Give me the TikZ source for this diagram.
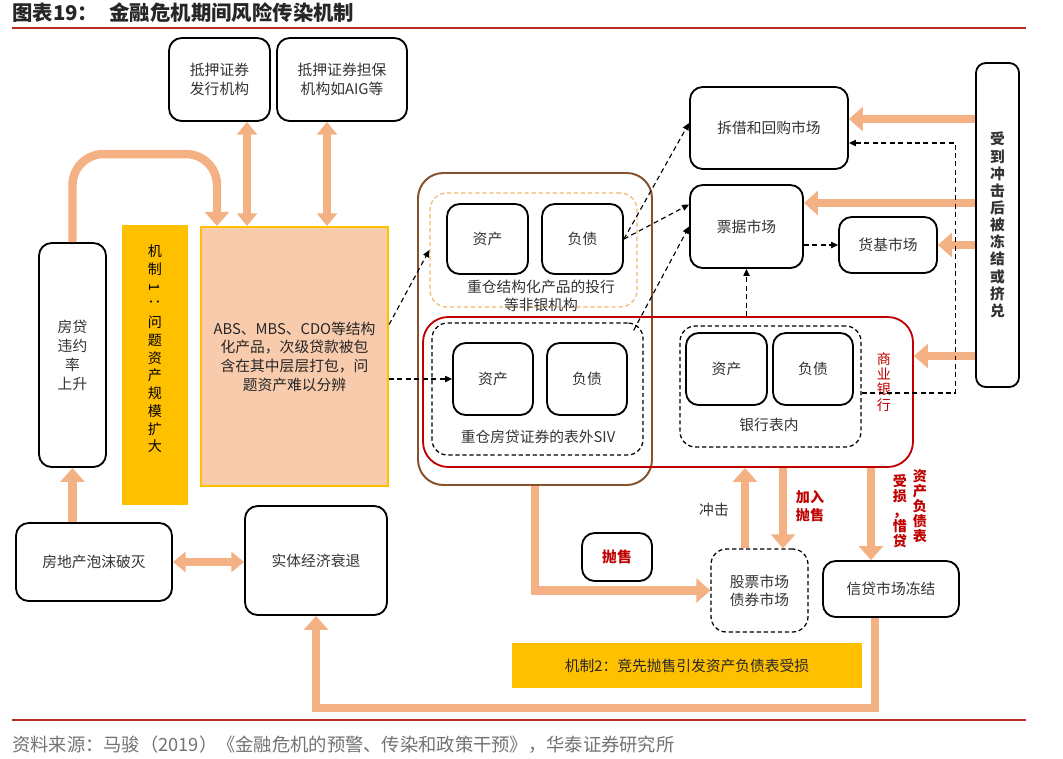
\documentclass[tikz,border=0pt]{standalone}
\usepackage{fontspec}
\setmainfont{Noto Sans CJK SC}
\usetikzlibrary{arrows.meta}

\begin{document}
\begin{tikzpicture}[x=0.025cm, y=-0.025cm, >={Triangle[length=5pt,width=4.5pt]}]

\definecolor{arrowc}{RGB}{244,177,131}
\definecolor{gold}{RGB}{255,192,0}
\definecolor{peach}{RGB}{248,203,173}
\definecolor{brownc}{RGB}{132,82,44}
\definecolor{bankred}{RGB}{192,0,0}
\definecolor{rulered}{RGB}{185,45,35}
\definecolor{dashyel}{RGB}{240,185,110}

% Fill background
\fill[white] (0,0) rectangle (1063,758);
\useasboundingbox (0,0) rectangle (1063,758);

\tikzset{
    sz/.style 2 args={minimum width=#1*0.025cm, minimum height=#2*0.025cm},
    box/.style={
        draw, line width=1.3pt, rounded corners=9pt, inner sep=1pt,
        align=center, text=black!80, font=\fontsize{10.5pt}{13pt}\selectfont
    },
    dbox/.style={
        draw, dash pattern=on 3pt off 2pt, line width=0.9pt, rounded corners=11pt,
        align=center, text=black!80, font=\fontsize{10.5pt}{13pt}\selectfont
    },
    bar/.style={fill=gold, inner sep=0pt, text=black!85},
    vtext/.style={align=center, inner sep=0pt, font=\fontsize{10pt}{12.6pt}\selectfont},
    fat/.style={draw=arrowc, line width=6pt, -{Triangle[length=10pt,width=17pt]}},
    dfat/.style={draw=arrowc, line width=5pt, {Triangle[length=9pt,width=14pt]}-{Triangle[length=9pt,width=14pt]}},
    link/.style={dash pattern=on 3.5pt off 2.5pt, line width=0.8pt, ->}
}

% Title
\node[anchor=west, inner sep=0pt, text=black!85, font=\fontsize{14.5pt}{17pt}\selectfont\bfseries] (title) at (12,13) {图表19：\hspace{8pt}金融危机期间风险传染机制};
\draw[rulered, line width=1.3pt] (12,28) -- (1026,28);

% --- LEFT: HOUSING AND STRUCTURED PRODUCTS ---
\node[box, sz={101}{83}] (issuer) at (219.5,79.5) {抵押证券\\发行机构};
\node[box, sz={130}{83}] (guarantor) at (342,79.5) {抵押证券担保\\机构如AIG等};

\node[box, sz={67}{224}, font=\fontsize{10.5pt}{13.5pt}\selectfont] (default) at (72.5,355) {房贷\\违约\\率\\上升};
\node[bar, sz={66}{280}] (mech1) at (155,365) {};
\node[vtext] (mech1txt) at (155,349) {机\\制\\\rotatebox[origin=c]{-90}{1}\\\rotatebox[origin=c]{-90}{：}\\问\\题\\资\\产\\规\\模\\扩\\大};

\node[draw=gold, fill=peach, line width=1.5pt, sz={187}{259}, align=center, text=black!85,
      font=\fontsize{10.5pt}{13.3pt}\selectfont] (abs) at (294.5,356.5)
      {ABS、MBS、CDO等结构\\化产品，次级贷款被包\\含在其中层层打包，问\\题资产难以分辨};

\node[box, sz={156}{78}] (bubble) at (94,562) {房地产泡沫破灭};
\node[box, sz={142}{109}] (real) at (316,560.5) {实体经济衰退};

% --- MIDDLE: NON-BANKS, SIV AND BANKS ---
\node[draw=brownc, line width=1.4pt, rounded corners=18pt, sz={234}{312}] (nonbank) at (535,329) {};
\node[draw=dashyel, dash pattern=on 3pt off 2pt, line width=0.9pt, rounded corners=12pt, sz={207}{114}] (ibank) at (533.5,250) {};
\node[box, sz={81}{70}] (ibA) at (487.5,239) {资产};
\node[box, sz={81}{70}] (ibL) at (582.5,239) {负债};
\node[align=center, text=black!80, font=\fontsize{10.5pt}{13pt}\selectfont] (ibtxt) at (541,296) {重仓结构化产品的投行\\等非银机构};

\node[draw=bankred, line width=1.3pt, rounded corners=18pt, sz={490}{150}] (bank) at (668,392) {};
\node[dbox, sz={211}{132}] (siv) at (537.5,389) {};
\node[box, sz={80}{72}] (sivA) at (493,379) {资产};
\node[box, sz={80}{72}] (sivL) at (587,379) {负债};
\node[text=black!80, font=\fontsize{10.5pt}{13pt}\selectfont] (sivtxt) at (538,437) {重仓房贷证券的表外SIV};

\node[dbox, sz={181}{121}] (bankin) at (770.5,386.5) {};
\node[box, sz={81}{72}] (bankA) at (726.5,369) {资产};
\node[box, sz={80}{72}] (bankL) at (813,369) {负债};
\node[text=black!80, font=\fontsize{10.5pt}{13pt}\selectfont] (bankintxt) at (769,425) {银行表内};
\node[vtext, text=bankred, font=\fontsize{10pt}{10.8pt}\selectfont] (banktxt) at (884,382) {商\\业\\银\\行};

% --- RIGHT: MONEY MARKETS ---
\node[box, sz={158}{82}] (repo) at (769,128) {拆借和回购市场};
\node[box, sz={113}{83}] (bill) at (746.5,226.5) {票据市场};
\node[box, sz={98}{56}] (mmf) at (888,245) {货基市场};
\node[box, sz={43}{324}, rounded corners=7pt, font=\fontsize{10.5pt}{12.2pt}\selectfont\bfseries] (shock) at (997.5,225) {受\\到\\冲\\击\\后\\被\\冻\\结\\或\\挤\\兑};

% --- BOTTOM: FIRE SALES ---
\node[dbox, sz={97}{83}] (stock) at (759.5,590.5) {股票市场\\债券市场};
\node[box, sz={70}{48}, text=bankred, font=\fontsize{10.5pt}{13pt}\selectfont\bfseries] (sell) at (617,557) {抛售};
\node[box, sz={136}{56}] (credit) at (891,589) {信贷市场冻结};
\node[bar, sz={350}{45}, font=\fontsize{10.5pt}{13pt}\selectfont] (mech2) at (687,665.5) {机制2：竞先抛售引发资产负债表受损};

\node[text=black!80, font=\fontsize{10.5pt}{13pt}\selectfont] (hit) at (714,510) {冲击};
\node[align=center, text=bankred, font=\fontsize{10pt}{12.5pt}\selectfont\bfseries] (sellmore) at (810,506) {加入\\抛售};
\node[vtext, text=bankred, font=\fontsize{10pt}{10.7pt}\selectfont\bfseries] (loss1) at (920,506) {资\\产\\负\\债\\表};
\node[vtext, text=bankred, font=\fontsize{10pt}{10.7pt}\selectfont\bfseries] (loss2) at (900,511) {受\\损\\，\\惜\\贷};

% Source
\draw[rulered, line width=1.3pt] (12,720) -- (1026,720);
\node[anchor=west, inner sep=0pt, text=black!55, font=\fontsize{13pt}{15pt}\selectfont] (source) at (12,745) {资料来源：马骏（2019）《金融危机的预警、传染和政策干预》，华泰证券研究所};

% --- THICK FLOWS ---
\draw[dfat] ([shift={(27.5,0)}]issuer.south) -- ([shift={(27.5,0)}]issuer.south |- abs.north);
\draw[dfat] ([shift={(-15,0)}]guarantor.south) -- ([shift={(-15,0)}]guarantor.south |- abs.north);
\draw[fat, rounded corners=22pt] (default.north) -- ++(0,-88) -| ([shift={(-77.5,0)}]abs.north);
\draw[fat] (bubble.north -| default.south) -- (default.south);
\draw[dfat] (bubble.east) -- (bubble.east -| real.west);

\draw[fat] ([shift={(0,-9)}]shock.west |- repo.east) -- ([shift={(0,-9)}]repo.east);
\draw[fat] ([shift={(0,-23.5)}]shock.west |- bill.east) -- ([shift={(0,-23.5)}]bill.east);
\draw[fat] (shock.west |- mmf.east) -- (mmf.east);
\draw[fat] ([shift={(0,-36)}]shock.west |- bank.east) -- ([shift={(0,-36)}]bank.east);

\draw[fat] (nonbank.south) |- (stock.west);
\draw[fat] ([shift={(-14.5,0)}]stock.north) -- ([shift={(-14.5,0)}]stock.north |- bank.south);
\draw[fat] ([shift={(23.5,0)}]stock.north |- bank.south) -- ([shift={(23.5,0)}]stock.north);
\draw[fat] ([shift={(-20,0)}]credit.north |- bank.south) -- ([shift={(-20,0)}]credit.north);
\draw[fat] ([shift={(-16,0)}]credit.south) -- ++(0,90) -| (real.south);

% --- DASHED LINKS ---
\draw[link] (abs.east |- sivA) -- (sivA.west);
\draw[link] ([shift={(0,-32)}]abs.east) -- (ibank.west);
\draw[link] (ibL.east) -- ([shift={(0,-5)}]repo.west);
\draw[link] (ibL.east) -- ([shift={(0,-22)}]bill.west);
\draw[link] ([shift={(-10,8)}]siv.north east) -- (bill.west);
\draw[link] (bill.east |- mmf) -- (mmf.west);
\draw[link] (bank.north -| bill.south) -- (bill.south);
\draw[link] ([shift={(0,6.5)}]bankin.east) -- ++(94,0) |- ([shift={(0,15)}]repo.east);

\end{tikzpicture}
\end{document}
